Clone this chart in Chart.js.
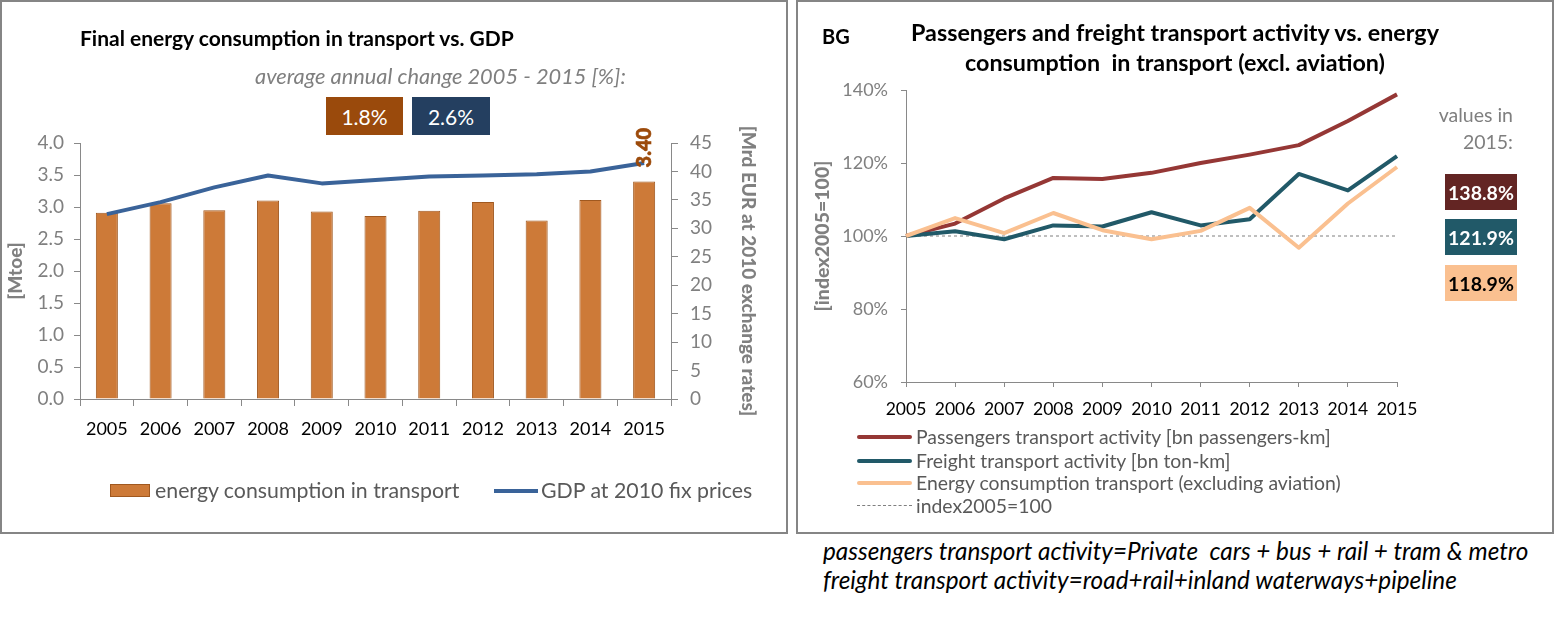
<!DOCTYPE html>
<html><head><meta charset="utf-8">
<script src="https://cdn.jsdelivr.net/npm/chart.js@4"></script>
<style>
body{margin:0;background:#fff;width:1555px;height:618px;position:relative;overflow:hidden;font-family:Lato,sans-serif;}
.abs{position:absolute;white-space:nowrap;line-height:1.2;}
.frame{position:absolute;border:2px solid #858585;box-sizing:border-box;}
.vbox{position:absolute;display:flex;align-items:center;justify-content:center;color:#fff;}
.wrap{position:absolute;}
</style></head><body>
<div class="frame" style="left:0;top:0;width:788px;height:534px"></div>
<div class="frame" style="left:796px;top:0;width:758px;height:534px"></div>

<div class="wrap" style="left:0;top:0;width:788px;height:533px"><canvas id="c1"></canvas></div>
<div class="wrap" style="left:798px;top:0;width:756px;height:533px"><canvas id="c2"></canvas></div>

<!-- left chart texts -->
<div class="abs" style="left:80px;top:25px;font-size:21px;font-weight:bold;color:#000">Final energy consumption in transport vs. GDP</div>
<div class="abs" style="left:255px;top:62.5px;font-size:21.8px;font-style:italic;color:#7f7f7f">average annual change 2005 - 2015 [%]:</div>
<div id="chg1" class="vbox" style="left:326px;top:97px;width:77px;height:38px;background:#9A4A0C;font-size:21px"></div>
<div id="chg2" class="vbox" style="left:412px;top:97px;width:78px;height:38px;background:#243F60;font-size:21px"></div>
<div style="position:absolute;left:110px;top:484px;width:40px;height:13px;background:#CD7A38;border:1px solid #A0581F;box-sizing:border-box"></div>
<div class="abs" id="lg1" style="left:155px;top:478px;font-size:21.3px;color:#595959"></div>
<div style="position:absolute;left:494px;top:489px;width:44px;height:4px;background:#3A6399"></div>
<div class="abs" id="lg2" style="left:541px;top:478px;font-size:21.3px;color:#595959"></div>

<!-- right chart texts -->
<div class="abs" style="left:822px;top:24px;font-size:20px;font-weight:bold;color:#000">BG</div>
<div class="abs" style="left:1175px;top:17px;transform:translateX(-50%);text-align:center;font-size:23.3px;line-height:30px;font-weight:bold;color:#000">Passengers and freight transport activity vs. energy<br>consumption&nbsp; in transport (excl. aviation)</div>
<div class="abs" style="right:42px;top:101px;text-align:right;font-size:19.5px;line-height:27px;color:#7f7f7f">values in<br>2015:</div>
<div id="v1" class="vbox" style="left:1445px;top:174px;width:72px;height:36px;background:#632523;font-size:19.5px;font-weight:bold"></div>
<div id="v2" class="vbox" style="left:1445px;top:219px;width:72px;height:36px;background:#215968;font-size:19.5px;font-weight:bold"></div>
<div id="v3" class="vbox" style="left:1445px;top:265px;width:72px;height:36px;background:#FAC090;color:#000;font-size:19.5px;font-weight:bold"></div>

<div style="position:absolute;left:857px;top:435px;width:55px;height:4px;background:#953735;border-radius:2px"></div>
<div style="position:absolute;left:857px;top:459px;width:55px;height:4px;background:#215968;border-radius:2px"></div>
<div style="position:absolute;left:857px;top:481px;width:55px;height:4px;background:#FAC090;border-radius:2px"></div>
<div style="position:absolute;left:857px;top:505px;width:55px;height:0;border-top:1px dashed #7f7f7f"></div>
<div class="abs" id="rl1" style="left:916px;top:425px;font-size:19.4px;color:#595959"></div>
<div class="abs" id="rl2" style="left:916px;top:449px;font-size:19.4px;color:#595959"></div>
<div class="abs" id="rl3" style="left:916px;top:471px;font-size:19.4px;color:#595959"></div>
<div class="abs" id="rl4" style="left:916px;top:494px;font-size:19.4px;color:#595959"></div>

<div class="abs" style="left:823px;top:536px;font-size:24.3px;line-height:29px;font-style:italic;color:#000">passengers transport activity=Private&nbsp; cars + bus + rail + tram &amp; metro<br>freight transport activity=road+rail+inland waterways+pipeline</div>

<script>
// ---------- data ----------
const years = ['2005','2006','2007','2008','2009','2010','2011','2012','2013','2014','2015'];
const energyMtoe = [2.91, 3.06, 2.95, 3.10, 2.93, 2.86, 2.94, 3.08, 2.79, 3.11, 3.40];
const gdpMrd = [32.5, 34.6, 37.2, 39.3, 37.9, 38.5, 39.1, 39.3, 39.5, 40.0, 41.5];
const avgAnnualChange = [1.8, 2.6];
const leftLegend = ['energy consumption in transport', 'GDP at 2010 fix prices'];
const leftTicksY = [0, 4, 0.5];
const rightTicksY = [0, 45, 5];

const passengersIdx = [100, 103.4, 110.3, 115.9, 115.6, 117.3, 120.0, 122.3, 124.9, 131.5, 138.8];
const freightIdx = [100, 101.3, 99.1, 102.9, 102.6, 106.5, 102.9, 104.6, 117.0, 112.5, 121.9];
const energyIdx = [100, 104.9, 100.8, 106.3, 101.6, 99.1, 101.4, 107.7, 96.8, 108.9, 118.9];
const baseIdx = [100, 100, 100, 100, 100, 100, 100, 100, 100, 100, 100];
const indexTicksY = [60, 140, 20];
const rightLegend = ['Passengers transport activity [bn passengers-km]', 'Freight transport activity [bn ton-km]', 'Energy consumption transport (excluding aviation)', 'index2005=100'];

// ---------- html texts from data ----------
document.getElementById('chg1').textContent = avgAnnualChange[0].toFixed(1) + '%';
document.getElementById('chg2').textContent = avgAnnualChange[1].toFixed(1) + '%';
document.getElementById('lg1').textContent = leftLegend[0];
document.getElementById('lg2').textContent = leftLegend[1];
document.getElementById('v1').textContent = passengersIdx[10].toFixed(1) + '%';
document.getElementById('v2').textContent = freightIdx[10].toFixed(1) + '%';
document.getElementById('v3').textContent = energyIdx[10].toFixed(1) + '%';
['rl1','rl2','rl3','rl4'].forEach((id,i)=>document.getElementById(id).textContent = rightLegend[i]);

Chart.defaults.font.family = 'Lato';
Chart.defaults.animation = false;
const axisGrey = '#898989';

const barLabel = {
  id: 'barLabel',
  afterDatasetsDraw(chart) {
    const meta = chart.getDatasetMeta(0);
    const el = meta.data[meta.data.length - 1];
    const ctx = chart.ctx;
    ctx.save();
    ctx.translate(el.x, el.y - 14);
    ctx.rotate(-Math.PI / 2);
    ctx.font = '900 20px Lato';
    ctx.fillStyle = '#9C4A0A';
    ctx.strokeStyle = '#9C4A0A';
    ctx.lineWidth = 0.6;
    ctx.textAlign = 'left';
    ctx.textBaseline = 'middle';
    const t = energyMtoe[energyMtoe.length - 1].toFixed(2);
    ctx.fillText(t, 0, 0);
    ctx.strokeText(t, 0, 0);
    ctx.restore();
  }
};

new Chart(document.getElementById('c1'), {
  type: 'bar',
  data: {
    labels: years,
    datasets: [
      { type: 'bar', label: leftLegend[0], data: energyMtoe, yAxisID: 'y', order: 2,
        backgroundColor: '#CD7A38', borderColor: '#A0581F', borderWidth: 1,
        barPercentage: 0.41, categoryPercentage: 1 },
      { type: 'line', label: leftLegend[1], data: gdpMrd, yAxisID: 'y1', order: 1,
        borderColor: '#3A6399', borderWidth: 4, pointRadius: 0, tension: 0,
        borderJoinStyle: 'round', fill: false }
    ]
  },
  options: {
    responsive: true, maintainAspectRatio: false,
    layout: { padding: { top: 143, left: 0, right: 0, bottom: 0 } },
    plugins: { legend: { display: false }, tooltip: { enabled: false } },
    scales: {
      x: {
        offset: true,
        grid: { display: true, drawOnChartArea: false, drawTicks: true, tickLength: 7, color: axisGrey, offset: true },
        border: { display: true, color: axisGrey, width: 1 },
        ticks: { color: '#000', font: { size: 18 }, padding: 12, autoSkip: false, maxRotation: 0 },
        afterFit: s => { s.height = 533 - 399; }
      },
      y: {
        position: 'left', min: leftTicksY[0], max: leftTicksY[1],
        ticks: { stepSize: leftTicksY[2], color: '#808080', font: { size: 19 }, padding: 10, callback: v => v.toFixed(1) },
        grid: { display: true, drawOnChartArea: false, drawTicks: true, tickLength: 6, color: axisGrey },
        border: { display: true, color: axisGrey, width: 1 },
        title: { display: true, text: '[Mtoe]', color: '#808080', font: { size: 19, weight: '900' }, padding: { top: 4, bottom: 0 } },
        afterFit: s => { s.width = 80; }
      },
      y1: {
        position: 'right', min: rightTicksY[0], max: rightTicksY[1],
        ticks: { stepSize: rightTicksY[2], color: '#808080', font: { size: 19 }, padding: 12 },
        grid: { display: true, drawOnChartArea: false, drawTicks: true, tickLength: 7, color: axisGrey },
        border: { display: true, color: axisGrey, width: 1 },
        title: { display: true, text: '[Mrd EUR at 2010 exchange rates]', color: '#808080', font: { size: 19, weight: '900' }, padding: { top: 28, bottom: 0 } },
        afterFit: s => { s.width = 788 - 671; }
      }
    }
  },
  plugins: [barLabel]
});

new Chart(document.getElementById('c2'), {
  type: 'line',
  data: {
    labels: years,
    datasets: [
      { label: rightLegend[0], data: passengersIdx, borderColor: '#953735', borderWidth: 4, pointRadius: 0, tension: 0, borderJoinStyle: 'round', order: 3 },
      { label: rightLegend[1], data: freightIdx, borderColor: '#215968', borderWidth: 4, pointRadius: 0, tension: 0, borderJoinStyle: 'round', order: 2 },
      { label: rightLegend[2], data: energyIdx, borderColor: '#FAC090', borderWidth: 4, pointRadius: 0, tension: 0, borderJoinStyle: 'round', order: 1 },
      { label: rightLegend[3], data: baseIdx, borderColor: '#7f7f7f', borderWidth: 1, borderDash: [3, 3], pointRadius: 0, order: 4 }
    ]
  },
  options: {
    responsive: true, maintainAspectRatio: false,
    layout: { padding: { top: 90, left: 0, right: 1554 - 1397, bottom: 0 } },
    plugins: { legend: { display: false }, tooltip: { enabled: false } },
    scales: {
      x: {
        offset: false,
        grid: { display: true, drawOnChartArea: false, drawTicks: true, tickLength: 5, color: axisGrey },
        border: { display: true, color: axisGrey, width: 1 },
        ticks: { color: '#000', font: { size: 17.5 }, padding: 12, autoSkip: false, maxRotation: 0 },
        afterFit: s => { s.height = 533 - 382; }
      },
      y: {
        min: indexTicksY[0], max: indexTicksY[1],
        ticks: { stepSize: indexTicksY[2], color: '#808080', font: { size: 18 }, padding: 13, callback: v => v + '%' },
        grid: { display: true, drawOnChartArea: false, drawTicks: true, tickLength: 5, color: axisGrey },
        border: { display: true, color: axisGrey, width: 1 },
        title: { display: true, text: '[index2005=100]', color: '#808080', font: { size: 19.5, weight: '900' }, padding: { top: 13, bottom: 0 } },
        afterFit: s => { s.width = 906 - 798; }
      }
    }
  }
});
</script>
</body></html>
